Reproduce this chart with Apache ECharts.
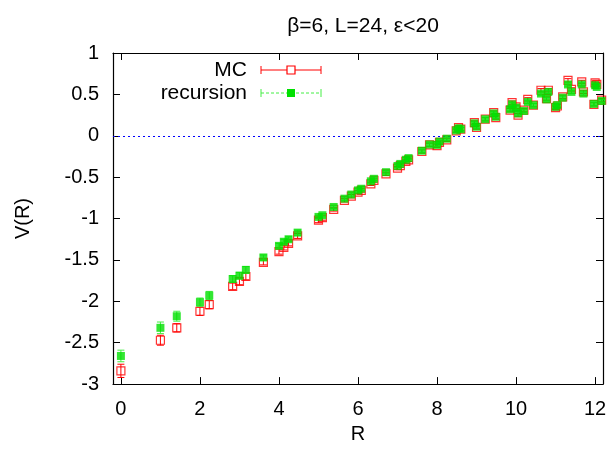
<!DOCTYPE html>
<html>
<head>
<meta charset="utf-8">
<script src="https://cdn.jsdelivr.net/npm/echarts@6/dist/echarts.min.js"></script>
<style>html,body{margin:0;padding:0;background:#fff}#c{width:613px;height:449px}</style>
</head>
<body>
<div id="c"></div>
<script>
const titleText = "β=6, L=24, ε<20";
const xTicks = [0, 2, 4, 6, 8, 10, 12];
const R = [0, 1, 1.414, 2, 2.236, 2.828, 3, 3.162, 3.606, 4, 4.123, 4.243, 4.472, 5, 5.099, 5.385, 5.657, 5.831, 6, 6.083, 6.325, 6.403, 6.708, 7, 7.071, 7.211, 7.280, 7.616, 7.810, 8, 8.062, 8.246, 8.485, 8.544, 8.602, 8.944, 9, 9.220, 9.434, 9.487, 9.849, 9.899, 10, 10.050, 10.198, 10.296, 10.440, 10.630, 10.770, 10.817, 11, 11.045, 11.180, 11.314, 11.402, 11.662, 11.705, 12, 12.042, 11.97, 12.166];
const mcV = [-2.84, -2.47, -2.32, -2.12, -2.04, -1.82, -1.76, -1.70, -1.53, -1.40, -1.35, -1.30, -1.21, -1.02, -0.99, -0.89, -0.78, -0.73, -0.68, -0.66, -0.58, -0.54, -0.46, -0.39, -0.36, -0.31, -0.29, -0.19, -0.11, -0.12, -0.08, -0.05, 0.06, 0.10, 0.08, 0.16, 0.10, 0.20, 0.28, 0.22, 0.31, 0.40, 0.35, 0.25, 0.31, 0.44, 0.37, 0.55, 0.45, 0.55, 0.34, 0.36, 0.47, 0.67, 0.56, 0.65, 0.53, 0.64, 0.62, 0.38, 0.43];
const mcErr = [0.08, 0.06, 0.05, 0.05, 0.05, 0.04, 0.04, 0.04, 0.03, 0.03, 0.03, 0.03, 0.03, 0.03, 0.03, 0.02, 0.02, 0.02, 0.02, 0.02, 0.02, 0.02, 0.02, 0.02, 0.02, 0.02, 0.02, 0.02, 0.02, 0.02, 0.02, 0.02, 0.02, 0.02, 0.02, 0.02, 0.02, 0.02, 0.02, 0.02, 0.02, 0.02, 0.02, 0.02, 0.02, 0.02, 0.02, 0.02, 0.02, 0.02, 0.02, 0.02, 0.02, 0.02, 0.02, 0.02, 0.02, 0.02, 0.02, 0.02, 0.02];
const recV = [-2.66, -2.32, -2.18, -2.01, -1.93, -1.73, -1.69, -1.62, -1.47, -1.33, -1.28, -1.25, -1.17, -0.98, -0.96, -0.86, -0.76, -0.71, -0.66, -0.64, -0.55, -0.52, -0.44, -0.365, -0.34, -0.29, -0.27, -0.18, -0.105, -0.11, -0.07, -0.035, 0.065, 0.09, 0.08, 0.15, 0.11, 0.20, 0.27, 0.23, 0.32, 0.38, 0.34, 0.27, 0.30, 0.41, 0.37, 0.51, 0.44, 0.53, 0.35, 0.37, 0.46, 0.62, 0.53, 0.62, 0.51, 0.61, 0.59, 0.385, 0.42];
const recErr = [0.07, 0.07, 0.06, 0.05, 0.05, 0.04, 0.04, 0.04, 0.03, 0.03, 0.03, 0.03, 0.03, 0.02, 0.02, 0.02, 0.02, 0.02, 0.02, 0.02, 0.02, 0.02, 0.02, 0.02, 0.02, 0.02, 0.02, 0.02, 0.02, 0.02, 0.02, 0.02, 0.02, 0.02, 0.02, 0.02, 0.02, 0.02, 0.02, 0.02, 0.02, 0.02, 0.02, 0.02, 0.02, 0.02, 0.02, 0.02, 0.02, 0.02, 0.02, 0.02, 0.02, 0.02, 0.02, 0.02, 0.02, 0.02, 0.02, 0.02, 0.02];

const FONT = "'Liberation Sans', Arial, sans-serif";
const RED = '#ff0000', GREEN = '#00e000', GREEN_BAR = '#44ee44';

const mcData = R.map((r, i) => [r, mcV[i], mcErr[i]]);
const recData = R.map((r, i) => [r, recV[i], recErr[i]]);

function errRender(color) {
  return function (params, api) {
    const x = api.value(0), y = api.value(1), e = api.value(2);
    const top = api.coord([x, y + e]);
    const bot = api.coord([x, y - e]);
    const cw = 3.5;
    const st = { stroke: color, lineWidth: 1 };
    return {
      type: 'group',
      children: [
        { type: 'line', shape: { x1: top[0], y1: top[1], x2: bot[0], y2: bot[1] }, style: st },
        { type: 'line', shape: { x1: top[0] - cw, y1: top[1], x2: top[0] + cw, y2: top[1] }, style: st },
        { type: 'line', shape: { x1: bot[0] - cw, y1: bot[1], x2: bot[0] + cw, y2: bot[1] }, style: st }
      ]
    };
  };
}

const chart = echarts.init(document.getElementById('c'), null, { renderer: 'canvas' });
const axisLine = { show: true, onZero: false, lineStyle: { color: '#000', width: 1.2 } };
const tickStyle = { color: '#000', width: 1 };
chart.setOption({
  animation: false,
  backgroundColor: '#fff',
  title: {
    text: titleText, left: 358, top: 11, textAlign: 'center',
    textStyle: { fontFamily: FONT, fontSize: 21, fontWeight: 'normal', color: '#000' }
  },
  grid: { left: 113, right: 10, top: 53, bottom: 64 },
  xAxis: [{
    type: 'value', min: -0.2, max: 12.2, position: 'bottom',
    name: 'R', nameLocation: 'middle', nameGap: 36,
    nameTextStyle: { fontFamily: FONT, fontSize: 20, color: '#000' },
    axisLine: axisLine,
    axisTick: { show: true, inside: true, length: 7, customValues: xTicks, lineStyle: tickStyle },
    axisLabel: { show: true, customValues: xTicks, margin: 15, fontFamily: FONT, fontSize: 20, color: '#000' },
    splitLine: { show: false }
  }, {
    type: 'value', min: -0.2, max: 12.2, position: 'top',
    axisLine: axisLine,
    axisTick: { show: true, inside: true, length: 7, customValues: [0, 4, 6, 8, 10, 12], lineStyle: tickStyle },
    axisLabel: { show: false }, splitLine: { show: false }
  }],
  yAxis: [{
    type: 'value', min: -3, max: 1, interval: 0.5, position: 'left',
    name: 'V(R)', nameLocation: 'middle', nameGap: 80, nameRotate: 90,
    nameTextStyle: { fontFamily: FONT, fontSize: 20, color: '#000' },
    axisLine: axisLine,
    axisTick: { show: true, inside: true, length: 7, lineStyle: tickStyle },
    axisLabel: { margin: 14, fontFamily: FONT, fontSize: 20, color: '#000' },
    splitLine: { show: false }
  }, {
    type: 'value', min: -3, max: 1, interval: 0.5, position: 'right',
    axisLine: axisLine,
    axisTick: { show: true, inside: true, length: 7, lineStyle: tickStyle },
    axisLabel: { show: false }, splitLine: { show: false }
  }],
  series: [
    {
      type: 'custom', name: 'MCerr', renderItem: errRender(RED), data: mcData,
      encode: { x: 0, y: 1 }, z: 2, silent: true,
      markLine: {
        silent: true, symbol: 'none', label: { show: false },
        lineStyle: { color: '#0000ff', width: 1, type: [2, 3] },
        data: [{ yAxis: 0 }]
      }
    },
    {
      type: 'scatter', name: 'MC', data: mcData, symbol: 'rect', symbolSize: 8, z: 3,
      itemStyle: { color: 'rgba(0,0,0,0)', borderColor: RED, borderWidth: 1.2 }
    },
    {
      type: 'custom', name: 'recErr', renderItem: errRender(GREEN_BAR), data: recData,
      encode: { x: 0, y: 1 }, z: 4, silent: true
    },
    {
      type: 'scatter', name: 'recursion', data: recData, symbol: 'rect', symbolSize: 8, z: 5,
      itemStyle: { color: GREEN }
    }
  ],
  graphic: [
    { type: 'text', x: 247, y: 70, style: { text: 'MC', fontFamily: FONT, fontSize: 21, fill: '#000', align: 'right', verticalAlign: 'middle' } },
    { type: 'line', shape: { x1: 261, y1: 70, x2: 321, y2: 70 }, style: { stroke: RED, lineWidth: 1 } },
    { type: 'line', shape: { x1: 261, y1: 66, x2: 261, y2: 74 }, style: { stroke: RED, lineWidth: 1 } },
    { type: 'line', shape: { x1: 321, y1: 66, x2: 321, y2: 74 }, style: { stroke: RED, lineWidth: 1 } },
    { type: 'rect', shape: { x: 287, y: 66, width: 8, height: 8 }, style: { fill: '#fff', stroke: RED, lineWidth: 1.2 } },
    { type: 'text', x: 247, y: 93, style: { text: 'recursion', fontFamily: FONT, fontSize: 21, fill: '#000', align: 'right', verticalAlign: 'middle' } },
    { type: 'line', shape: { x1: 261, y1: 93, x2: 321, y2: 93 }, style: { stroke: GREEN_BAR, lineWidth: 1, lineDash: [3, 2] } },
    { type: 'line', shape: { x1: 261, y1: 89, x2: 261, y2: 97 }, style: { stroke: GREEN_BAR, lineWidth: 1 } },
    { type: 'line', shape: { x1: 321, y1: 89, x2: 321, y2: 97 }, style: { stroke: GREEN_BAR, lineWidth: 1 } },
    { type: 'rect', shape: { x: 287, y: 89, width: 8, height: 8 }, style: { fill: GREEN } }
  ]
});
</script>
</body>
</html>
